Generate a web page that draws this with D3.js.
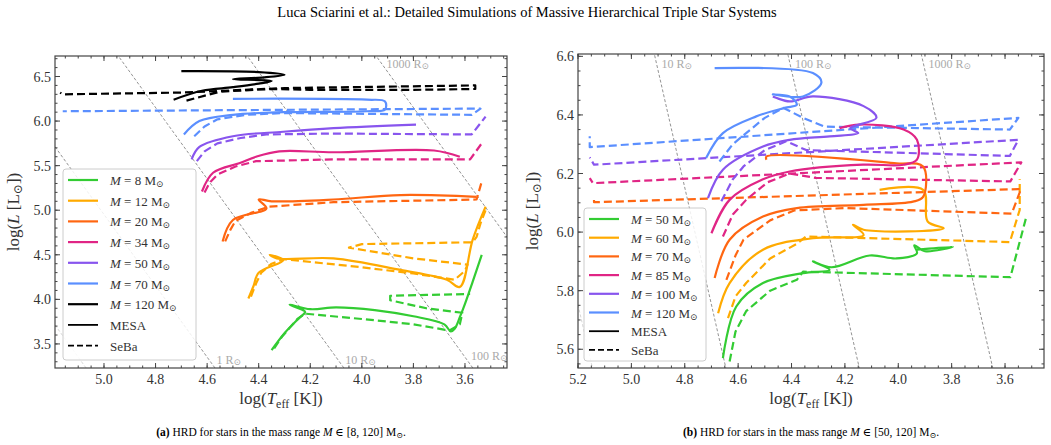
<!DOCTYPE html><html><head><meta charset="utf-8">
<script src="https://cdn.jsdelivr.net/npm/d3@7"></script>
<style>body{margin:0;background:#fff}text{font-family:"Liberation Serif","DejaVu Serif",serif}</style></head><body>
<svg id="c" width="1051" height="445"></svg>
<script>
const colors = {g:"#33cc33", y:"#ffaa00", o:"#ff6611", m:"#e02585", p:"#8855ee", b:"#5b8fff", k:"#000"};
// Panel a tracks [logT, logL]
const aMesa = {
 g:[[4.35,3.43],[4.30,3.62],[4.24,3.80],[4.22,3.86],[4.28,3.94],[4.20,3.89],[4.10,3.91],[3.95,3.88],[3.80,3.81],[3.68,3.72],[3.655,3.64],[3.64,3.67],[3.62,3.80],[3.60,3.95],[3.57,4.2],[3.535,4.5]],
 y:[[4.44,4.01],[4.42,4.15],[4.40,4.30],[4.305,4.44],[4.357,4.5],[4.33,4.46],[4.11,4.46],[3.85,4.33],[3.67,4.22],[3.62,4.14],[3.57,4.67],[3.52,5.04]],
 o:[[4.54,4.65],[4.50,4.89],[4.37,5.02],[4.40,5.12],[4.35,5.10],[4.11,5.12],[3.85,5.17],[3.555,5.15]],
 m:[[4.62,5.21],[4.577,5.42],[4.473,5.53],[4.41,5.60],[4.32,5.66],[4.11,5.65],[3.72,5.67],[3.62,5.60]],
 p:[[4.66,5.57],[4.63,5.71],[4.50,5.83],[4.305,5.88],[4.11,5.92],[3.79,5.96]],
 b:[[4.69,5.85],[4.63,6.0],[4.50,6.07],[4.305,6.10],[3.98,6.11],[3.91,6.13],[3.91,6.22],[3.98,6.24],[4.5,6.25]],
 k:[[4.73,6.24],[4.62,6.34],[4.50,6.38],[4.40,6.42],[4.35,6.45],[4.50,6.47],[4.38,6.49],[4.30,6.52],[4.40,6.55],[4.70,6.56]]
};
const aSeba = {
 g:[[4.34,3.45],[4.31,3.58],[4.28,3.68],[4.25,3.78],[4.22,3.84],[4.0,3.78],[3.8,3.72],[3.66,3.65],[3.62,3.72],[3.61,3.85],[3.75,3.90],[3.89,3.99],[3.89,4.04],[3.75,4.05],[3.58,4.06]],
 y:[[4.43,4.03],[4.41,4.18],[4.39,4.30],[4.35,4.40],[4.30,4.45],[4.0,4.36],[3.8,4.29],[3.64,4.22],[3.60,4.32],[3.59,4.39],[3.8,4.46],[4.05,4.58],[4.0,4.62],[3.57,4.64],[3.555,4.7],[3.54,4.85],[3.52,5.0]],
 o:[[4.53,4.65],[4.51,4.78],[4.49,4.88],[4.43,4.97],[4.36,5.04],[4.11,5.09],[3.555,5.12],[3.535,5.32]],
 m:[[4.61,5.20],[4.59,5.31],[4.56,5.40],[4.49,5.49],[4.41,5.55],[4.11,5.57],[3.58,5.57],[3.53,5.77]],
 p:[[4.64,5.55],[4.61,5.66],[4.56,5.75],[4.47,5.81],[4.37,5.85],[4.11,5.86],[3.574,5.85],[3.52,6.05]],
 b:[[4.65,5.83],[4.61,5.94],[4.56,6.02],[4.45,6.07],[4.305,6.09],[3.574,6.07],[3.54,6.14],[4.11,6.13],[5.16,6.11]],
 k:[[4.68,6.23],[4.55,6.33],[4.35,6.36],[4.20,6.35],[3.8,6.35],[3.56,6.36],[3.56,6.40],[4.3,6.37],[4.7,6.32],[5.16,6.30],[5.17,6.32]]
};
const bMesa = {
 g:[[4.657,5.57],[4.607,5.746],[4.507,5.826],[4.357,5.86],[4.257,5.871],[4.32,5.90],[4.25,5.88],[4.107,5.92],[4.007,5.91],[3.93,5.928],[3.94,5.955],[3.90,5.935],[3.795,5.95],[3.93,5.94]],
 y:[[4.675,5.723],[4.632,5.826],[4.507,5.94],[4.32,5.979],[4.13,5.99],[4.17,6.025],[4.13,6.008],[3.83,6.013],[3.89,6.036],[3.907,6.144],[4.07,6.144]],
 o:[[4.688,5.843],[4.632,5.974],[4.507,6.053],[4.38,6.082],[4.13,6.093],[3.945,6.104],[3.907,6.12],[3.907,6.224],[4.007,6.235],[4.494,6.258],[4.494,6.247]],
 m:[[4.70,5.996],[4.632,6.11],[4.507,6.18],[4.407,6.207],[4.132,6.23],[3.98,6.23],[3.93,6.247],[3.93,6.315],[3.98,6.35],[4.145,6.367],[4.22,6.355]],
 p:[[4.713,6.116],[4.657,6.213],[4.507,6.292],[4.407,6.315],[4.257,6.327],[4.15,6.338],[4.18,6.355],[4.082,6.39],[4.13,6.43],[4.32,6.463],[4.407,6.446],[4.47,6.463]],
 b:[[4.72,6.253],[4.657,6.338],[4.532,6.395],[4.426,6.424],[4.38,6.435],[4.407,6.463],[4.47,6.47],[4.357,6.463],[4.288,6.51],[4.32,6.543],[4.688,6.56]]
};
const bSeba = {
 g:[[4.632,5.558],[4.61,5.66],[4.57,5.73],[4.48,5.80],[4.38,5.837],[4.357,5.865],[3.58,5.846],[3.52,6.053]],
 y:[[4.638,5.706],[4.61,5.78],[4.57,5.826],[4.48,5.91],[4.38,5.96],[4.345,5.985],[3.582,5.966],[3.545,6.076],[3.545,6.18]],
 o:[[4.644,5.837],[4.61,5.92],[4.58,5.974],[4.48,6.04],[4.39,6.074],[4.2,6.082],[3.575,6.063],[3.54,6.147],[5.14,6.102],[5.14,6.11]],
 m:[[4.657,5.985],[4.62,6.06],[4.57,6.11],[4.49,6.17],[4.407,6.2],[4.31,6.185],[3.58,6.173],[3.539,6.238],[5.144,6.167],[5.156,6.184]],
 p:[[4.663,6.105],[4.62,6.18],[4.58,6.224],[4.50,6.28],[4.42,6.31],[4.345,6.28],[3.582,6.26],[3.55,6.315],[5.14,6.23],[5.156,6.255]],
 b:[[4.67,6.241],[4.62,6.30],[4.57,6.338],[4.50,6.39],[4.43,6.424],[4.357,6.39],[4.276,6.36],[3.582,6.35],[3.55,6.39],[5.156,6.29],[5.156,6.327]]
};
const aLegend = [["g","8"],["y","12"],["o","20"],["m","34"],["p","50"],["b","70"],["k","120"]];
const bLegend = [["g","50"],["y","60"],["o","70"],["m","85"],["p","100"],["b","120"]];
const aRadii = [0.1,1,10,100,1000], bRadii = [1,10,100,1000];
const xTicksA = [5.0,4.8,4.6,4.4,4.2,4.0,3.8,3.6], yTicksA=[3.5,4.0,4.5,5.0,5.5,6.0,6.5];
const xTicksB = [5.2,5.0,4.8,4.6,4.4,4.2,4.0,3.8,3.6], yTicksB=[5.6,5.8,6.0,6.2,6.4,6.6];

const svg = d3.select("#c");
svg.append("text").attr("x",527).attr("y",17).attr("text-anchor","middle").attr("font-size",14.5).text("Luca Sciarini et al.: Detailed Simulations of Massive Hierarchical Triple Star Systems");

function panel(cfg){
 const x=d3.scaleLinear().domain(cfg.xd).range([cfg.l,cfg.r]);
 const y=d3.scaleLinear().domain(cfg.yd).range([cfg.b,cfg.t]);
 const g=svg.append("g");
 const cid="clip"+cfg.id;
 g.append("clipPath").attr("id",cid).append("rect").attr("x",cfg.l).attr("y",cfg.t).attr("width",cfg.r-cfg.l).attr("height",cfg.b-cfg.t);
 const pg=g.append("g").attr("clip-path",`url(#${cid})`);
 cfg.radii.forEach(R=>{
  const f=T=>2*Math.log10(R)+4*(T-3.762);
  const T0=cfg.xd[0],T1=cfg.xd[1];
  const faint = R===cfg.faint;
  pg.append("line").attr("x1",x(T0)).attr("y1",y(f(T0))).attr("x2",x(T1)).attr("y2",y(f(T1)))
   .attr("stroke",faint?"#ccc":"#777").attr("stroke-width",0.8).attr("stroke-dasharray","3,2");
 });
 const lineS=d3.line().x(d=>x(d[0])).y(d=>y(d[1])).curve(d3.curveLinear);
 const lineM=d3.line().x(d=>x(d[0])).y(d=>y(d[1])).curve(d3.curveCatmullRom.alpha(0.5));
 Object.keys(cfg.seba).forEach(k=>pg.append("path").attr("d",lineS(cfg.seba[k])).attr("fill","none").attr("stroke",colors[k]).attr("stroke-width",2.2).attr("stroke-dasharray","8,4").attr("stroke-linejoin","round"));
 Object.keys(cfg.mesa).forEach(k=>pg.append("path").attr("d",lineM(cfg.mesa[k])).attr("fill","none").attr("stroke",colors[k]).attr("stroke-width",2.2).attr("stroke-linejoin","round"));
 cfg.rlab.forEach(([R,L,dx])=>{
  const T=3.762+(L-2*Math.log10(R))/4;
  g.append("text").attr("x",x(T)+dx).attr("y",y(L)).attr("fill","#aaa").attr("font-size",12).text(R+" R").append("tspan").attr("font-size",9).attr("dy",1).text("⊙");
 });
 g.append("rect").attr("x",cfg.l).attr("y",cfg.t).attr("width",cfg.r-cfg.l).attr("height",cfg.b-cfg.t).attr("fill","none").attr("stroke","#444").attr("stroke-width",1.2);
 const minorX=d3.range(Math.ceil(cfg.xd[1]/0.05),Math.floor(cfg.xd[0]/0.05)+1).map(i=>i*0.05);
 const minorY=d3.range(Math.ceil(cfg.yd[0]/cfg.my),Math.floor(cfg.yd[1]/cfg.my)+1).map(i=>i*cfg.my);
 minorX.forEach(v=>{[cfg.b,cfg.t].forEach((yy,i)=>g.append("line").attr("x1",x(v)).attr("x2",x(v)).attr("y1",yy).attr("y2",yy+(i?2.5:-2.5)).attr("stroke","#444"));});
 minorY.forEach(v=>{[cfg.l,cfg.r].forEach((xx,i)=>g.append("line").attr("y1",y(v)).attr("y2",y(v)).attr("x1",xx).attr("x2",xx+(i?-2.5:2.5)).attr("stroke","#444"));});
 cfg.xt.forEach(v=>{[cfg.b,cfg.t].forEach((yy,i)=>g.append("line").attr("x1",x(v)).attr("x2",x(v)).attr("y1",yy).attr("y2",yy+(i?5:-5)).attr("stroke","#444"));
  g.append("text").attr("x",x(v)).attr("y",cfg.b+16).attr("text-anchor","middle").attr("font-size",14).attr("fill","#333").text(v.toFixed(1));});
 cfg.yt.forEach(v=>{[cfg.l,cfg.r].forEach((xx,i)=>g.append("line").attr("y1",y(v)).attr("y2",y(v)).attr("x1",xx).attr("x2",xx+(i?-5:5)).attr("stroke","#444"));
  g.append("text").attr("x",cfg.l-4).attr("y",y(v)+5).attr("text-anchor","end").attr("font-size",14).attr("fill","#333").text(v.toFixed(1));});
 const xl=g.append("text").attr("x",(cfg.l+cfg.r)/2).attr("y",cfg.b+36).attr("text-anchor","middle").attr("font-size",17).attr("fill","#333");
 xl.append("tspan").text("log(");xl.append("tspan").attr("font-style","italic").text("T");xl.append("tspan").attr("font-size",12).attr("dy",4).text("eff");xl.append("tspan").attr("dy",-4).text(" [K])");
 const yl=g.append("text").attr("transform",`translate(${cfg.l-cfg.yoff},${(cfg.t+cfg.b)/2}) rotate(-90)`).attr("text-anchor","middle").attr("font-size",17).attr("fill","#333");
 yl.append("tspan").text("log(");yl.append("tspan").attr("font-style","italic").text("L");yl.append("tspan").text(" [L");yl.append("tspan").attr("font-size",12).attr("dy",3).text("⊙");yl.append("tspan").attr("dy",-3).text("])");
 const lg=cfg.lg;
 g.append("rect").attr("x",lg.x).attr("y",lg.y).attr("width",lg.w).attr("height",lg.h).attr("rx",3).attr("fill","#fff").attr("fill-opacity",0.85).attr("stroke","#ccc");
 const items=cfg.legend.map(d=>({c:colors[d[0]],m:d[1],dash:null})).concat([{c:"#000",t:"MESA"},{c:"#000",t:"SeBa",dash:"6,3"}]);
 items.forEach((it,i)=>{const yy=lg.y0+i*lg.dy;
  g.append("line").attr("x1",lg.x+5).attr("x2",lg.x+35).attr("y1",yy).attr("y2",yy).attr("stroke",it.c).attr("stroke-width",it.m?2.2:1.8).attr("stroke-dasharray",it.dash);
  const t=g.append("text").attr("x",lg.x+47).attr("y",yy+5).attr("font-size",13).attr("fill","#333");
  if(it.m){t.append("tspan").attr("font-style","italic").text("M");t.append("tspan").text(" = "+it.m+" M");t.append("tspan").attr("font-size",9).attr("dy",2).text("⊙");}
  else t.text(it.t);
 });
 const cap=svg.append("text").attr("x",(cfg.l+cfg.r)/2).attr("y",436).attr("text-anchor","middle").attr("font-size",11.5);
 cap.append("tspan").attr("font-weight","bold").text(cfg.cap[0]);cap.append("tspan").text(" HRD for stars in the mass range ");
 cap.append("tspan").attr("font-style","italic").text("M");cap.append("tspan").text(" ∈ "+cfg.cap[1]+" M");cap.append("tspan").attr("font-size",8).attr("dy",2).text("⊙");cap.append("tspan").attr("dy",-2).text(".");
}
panel({id:"a",xd:[5.19,3.437],yd:[3.23,6.73],l:55,r:507,t:56,b:368,my:0.1,radii:aRadii,faint:0.1,mesa:aMesa,seba:aSeba,
 rlab:[[1000,6.6,2],[1,3.27,4],[10,3.27,4],[100,3.32,4]],xt:xTicksA,yt:yTicksA,yoff:36,legend:aLegend,
 lg:{x:63,y:169,w:133,h:191,y0:180,dy:20.7},cap:["(a)","[8, 120]"]});
panel({id:"b",xd:[5.2,3.454],yd:[5.536,6.608],l:578,r:1044,t:54,b:368,my:0.05,radii:bRadii,faint:1,mesa:bMesa,seba:bSeba,
 rlab:[[10,6.56,4],[100,6.56,4],[1000,6.56,4]],xt:xTicksB,yt:yTicksB,yoff:40,legend:bLegend,
 lg:{x:584,y:208,w:122,h:153,y0:219,dy:18.7},cap:["(b)","[50, 120]"]});
</script></body></html>
